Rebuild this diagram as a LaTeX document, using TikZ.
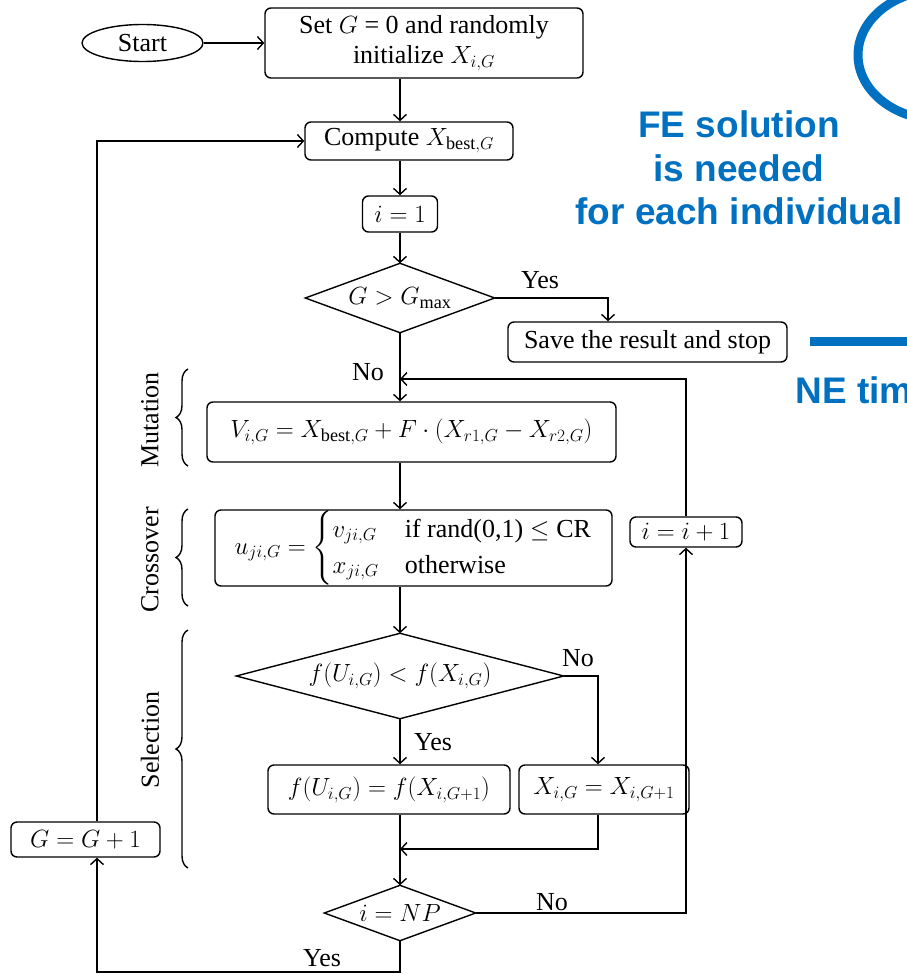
\documentclass[tikz,border=0pt]{standalone}
\usepackage{amsmath}
\usepackage{fontspec}
\setmainfont{Liberation Serif}
\newfontfamily\bluefont{Liberation Sans}
\usetikzlibrary{shapes.geometric,arrows.meta,decorations.pathreplacing}
\definecolor{fe}{RGB}{0,112,192}
\newcommand{\fsz}{\fontsize{26}{30}\selectfont}
\begin{document}
\begin{tikzpicture}[x=1pt,y=-1pt,line width=1.4pt,
  every node/.style={font=\fsz},
  box/.style={draw,rounded corners=6pt,inner sep=0pt,align=center},
  dia/.style={inner sep=0pt},
  arr/.style={-{Straight Barb[length=6pt,width=13pt]}},
  lab/.style={inner sep=0pt},
  brc/.style={decorate,decoration={brace,amplitude=12pt}},
  bluetxt/.style={text=fe,font=\bluefont\bfseries\fontsize{37}{43.5}\selectfont}]
\useasboundingbox (0,0) rectangle (907,974);
% nodes
\node[draw,ellipse,minimum width=121pt,minimum height=37pt,inner sep=0pt] (start) at (142.5,43) {Start};
\node[box,minimum width=318pt,minimum height=70pt] (init) at (424,43) {Set $G$ = 0 and randomly\\ initialize $X_{i,G}$};
\node[box,minimum width=208pt,minimum height=38pt] (compute) at (409,141) {Compute $X_{\mathrm{best},G}$};
\node[box,minimum width=75pt,minimum height=36pt] (i1) at (400,214) {$i=1$};
\node[dia,minimum width=188pt,minimum height=68pt] (d1) at (400,298) {$G>G_{\max}$};
\node[box,minimum width=279pt,minimum height=40pt] (save) at (647.5,342) {Save the result and stop};
\node[box,minimum width=409pt,minimum height=60pt] (mut) at (411.5,432) {$V_{i,G}=X_{\mathrm{best},G}+F\cdot(X_{r1,G}-X_{r2,G})$};
\node[box,minimum width=397pt,minimum height=76pt] (cross) at (413.5,548) {$u_{ji,G}=\begin{cases} v_{ji,G} & \text{if rand(0,1)} \le \mathrm{CR}\\ x_{ji,G} & \text{otherwise}\end{cases}$};
\node[box,minimum width=112pt,minimum height=30pt] (inc) at (686,532) {$i=i+1$};
\node[dia,minimum width=326pt,minimum height=84pt] (d2) at (400,676) {$f(U_{i,G})<f(X_{i,G})$};
\node[box,minimum width=242pt,minimum height=49pt] (fu) at (389,789.5) {$f(U_{i,G})=f(X_{i,G+1})$};
\node[box,minimum width=170pt,minimum height=49pt] (xx) at (604,789.5) {$X_{i,G}=X_{i,G+1}$};
\node[dia,minimum width=150pt,minimum height=54pt] (d3) at (400,913) {$i=NP$};
\node[box,minimum width=149pt,minimum height=35pt] (g1) at (85.5,839.5) {$G=G+1$};
% diamond outlines
\foreach \d in {d1,d2,d3}
  \draw (\d.north) -- (\d.east) -- (\d.south) -- (\d.west) -- cycle;
% helper coordinates
\coordinate (L) at (97,972);
\coordinate (B) at (400,972);
\coordinate (sv) at (608,0);
\coordinate (lp) at (400,379);
\coordinate (nx) at (598,0);
\coordinate (m) at (400,849);
% connectors
\draw[arr] (start) -- (init);
\draw[arr] (init.south -| i1) -- (compute.north -| i1);
\draw[arr] (compute.south -| i1) -- (i1.north);
\draw[arr] (i1.south) -- (d1.north);
\draw[arr] (d1.east) -- (d1.east -| sv) -- (sv |- save.north);
\draw[arr] (d1.south) -- (mut.north -| d1);
\draw[arr] (inc.north) -- (inc.north |- lp) -- (lp);
\draw[arr] (mut.south -| i1) -- (cross.north -| i1);
\draw[arr] (cross.south -| i1) -- (d2.north);
\draw[arr] (d2.east) -- (d2.east -| nx) -- (nx |- xx.north);
\draw[arr] (d2.south) -- (fu.north -| d2);
\draw[arr] (nx |- xx.south) -- (nx |- m) -- (m);
\draw[arr] (fu.south -| d3) -- (d3.north);
\draw[arr] (d3.east) -- (d3.east -| inc) -- (inc.south);
\draw[arr] (d3.south) -- (B) -- (L) -- (L |- g1.south);
\draw[arr] (L |- g1.north) -- (L |- compute) -- (compute.west);
% labels
\node[lab] at (540,280) {Yes};
\node[lab] at (368,372) {No};
\node[lab] at (578,658) {No};
\node[lab] at (433,742) {Yes};
\node[lab] at (552,902) {No};
\node[lab] at (322,958) {Yes};
% braces
\draw[brc] (188,466) -- (188,369);
\draw[brc] (188,606) -- (188,509);
\draw[brc] (188,868) -- (188,630);
\node[rotate=90] (mt) at (150,420) {Mutation};
\node[rotate=90] (cr) at (150,560) {Crossover};
\node[rotate=90] (se) at (150,740) {Selection};
% blue annotations
\draw[fe,line width=9pt] (940,55) ellipse [x radius=82, y radius=65];
\draw[fe,line width=9pt] (810,341) -- (915,341);
\node[bluetxt,align=center] (fe1) at (739,168) {FE solution\\is needed\\for each individual};
\node[bluetxt,anchor=base west,inner sep=0pt] (ne) at (795,403) {NE tim};
\end{tikzpicture}
\end{document}
